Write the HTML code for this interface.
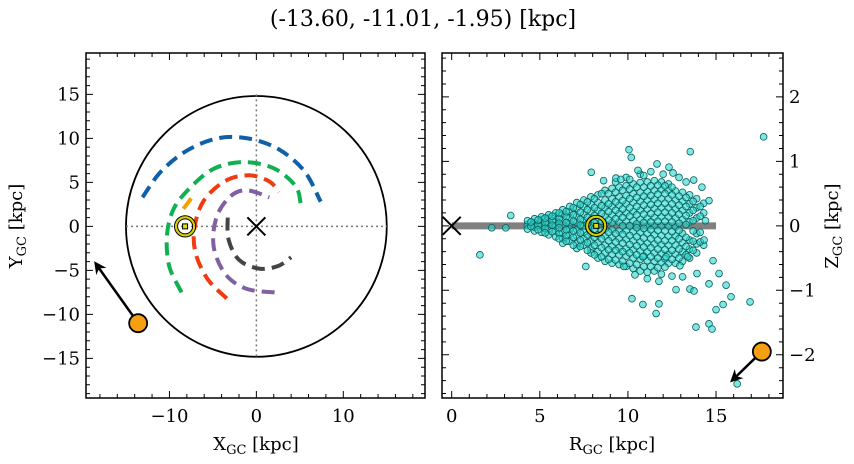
<!DOCTYPE html>
<html><head><meta charset="utf-8"><style>
html,body{margin:0;padding:0;background:#fff;}
svg{display:block;font-family:"DejaVu Serif","Liberation Serif",serif;}
</style></head><body>
<svg id="fig" width="854" height="464" viewBox="0 0 854 464" xmlns="http://www.w3.org/2000/svg">
<text x="423" y="26" font-size="22" text-anchor="middle">(-13.60, -11.01, -1.95) [kpc]</text>
</svg>
<script>
// ---- data ----
const sunXY = [-8.2, 0.0];
const objXY = [-13.6, -11.0];
const objArrowXY = [-18.5, -4.2];
const objRZ = [17.6, -1.95];
const objArrowRZ = [15.9, -2.4];
const sunRZ = [8.2, 0.0];
const diskRadius = 15;
const arcBlue = [[-13.1,3.3],[-11,6.2],[-8,8.6],[-4.5,10],[-1,10],[2.5,8.8],[5.5,6.3],[7.4,2.8]];
const arcGreen = [[-8.6,-7.5],[-10,-4.6],[-10.3,-1.2],[-9.6,1.8],[-8,4],[-5,6.5],[-1.5,7.3],[2,6.6],[4.5,4.6],[5.1,2.6]];
const arcRed = [[-3.4,-8.2],[-5.6,-6],[-7,-3],[-7.1,0],[-6,3],[-3.5,5.2],[-0.8,5.8],[1.5,5.1],[2.6,3.9]];
const arcPurple = [[2.1,-7.5],[-1.1,-7.1],[-3.5,-5.5],[-4.9,-2.4],[-4.6,1],[-3,3.4],[-1.1,4.1],[1.5,3.3]];
const arcGray = [[-3.3,1],[-3.2,-1.5],[-2,-3.8],[0.3,-4.8],[2.5,-4.5],[4,-3.5]];
const arcOrange = [[-8.4,2.0],[-7.4,3.3]];
const outlierR = [17.7,10.06,10.19,13.54,7.92,8.62,9.32,10.57,11.65,12.33,12.56,13.73,14.2,14.6,14.4,3.35,2.27,3.07,1.6,7.61,9.77,14.32,14.83,13.92,15.17,14.6,15.57,15.85,16.93,15.4,15,13.86,14.6,14.77,10.23,10.85,11.76,11.6,11.76,12.73,13.52,13.75,12.5,13.1,12.95,13.4,16.2,10.85,12.16,9.6,10.9,11.3,12.0,12.9,13.3,11.1,10.4];
const outlierZ = [1.38,1.18,1.06,1.15,0.83,0.70,0.74,0.86,0.96,0.91,0.82,0.71,0.6,0.39,0.08,0.16,-0.03,-0.03,-0.45,-0.63,-0.63,-0.22,-0.54,-0.74,-0.74,-0.9,-0.92,-1.1,-1.18,-1.22,-1.30,-1.57,-1.52,-1.6,-1.13,-1.22,-1.21,-1.36,-0.86,-0.99,-0.98,-1.01,-0.78,-0.79,-0.62,-0.48,-2.45,-0.48,-0.48,0.72,0.78,0.84,0.8,0.75,0.68,-0.82,-0.76];
const coreColumnsR = [4.3,4.7,5.1,5.5,5.9,6.3,6.7,7.1,7.5,7.9,8.3,8.7,9.1,9.5,9.9,10.3,10.7,11.1,11.5,11.9,12.3,12.7,13.1,13.5,13.9,14.3];
const coreColumnsZ = [
[0.02,-0.05,0.08],
[0.05,-0.08,0.11,-0.02],
[0.1,-0.1,0.0,0.14],
[0.12,-0.14,0.03,-0.05,0.17],
[0.15,-0.17,0.06,-0.08,0.0,0.2],
[0.18,-0.2,0.09,-0.11,0.01,0.25,-0.27],
[0.22,-0.24,0.12,-0.13,0.03,-0.05,0.3],
[0.27,-0.28,0.15,-0.16,0.05,-0.06,0.36,-0.35],
[0.3,-0.3,0.18,-0.2,0.08,-0.1,0.0,0.4],
[0.33,-0.36,0.22,-0.24,0.1,-0.12,0.0,0.45,-0.42],
[0.36,-0.4,0.24,-0.26,0.12,-0.14,0.48,-0.5],
[0.4,-0.42,0.28,-0.3,0.15,-0.16,0.03,-0.05,0.55,-0.55],
[0.42,-0.44,0.3,-0.32,0.17,-0.18,0.05,-0.06,0.58,-0.58],
[0.45,-0.45,0.32,-0.34,0.19,-0.2,0.06,-0.08,0.6,-0.6],
[0.47,-0.47,0.34,-0.35,0.2,-0.21,0.07,-0.08,0.62,-0.63,0.75],
[0.5,-0.5,0.36,-0.37,0.22,-0.23,0.08,-0.09,0.65,-0.66],
[0.52,-0.52,0.38,-0.39,0.24,-0.25,0.1,-0.1,0.67,-0.7,0.8],
[0.53,-0.54,0.4,-0.4,0.26,-0.27,0.12,-0.12,0.0,0.68,-0.72],
[0.55,-0.55,0.41,-0.42,0.27,-0.28,0.13,-0.14,0.0,0.7,-0.7],
[0.56,-0.57,0.42,-0.43,0.28,-0.29,0.14,-0.15,0.0,0.68,-0.75],
[0.55,-0.58,0.42,-0.44,0.28,-0.3,0.14,-0.16,0.0,0.65],
[0.54,-0.58,0.4,-0.44,0.26,-0.3,0.12,-0.16,-0.02],
[0.52,-0.55,0.38,-0.4,0.24,-0.26,0.1,-0.12],
[0.48,-0.5,0.34,-0.36,0.2,-0.22,0.06],
[0.42,-0.42,0.28,-0.28,0.12,-0.12],
[0.35,-0.3,0.2]];
const coreColumnsR2 = [4.5,4.9,5.3,5.7,6.1,6.5,6.9,7.3,7.7,8.1,8.5,8.9,9.3,9.7,10.1,10.5,10.9,11.3,11.7,12.1,12.5,12.9,13.3,13.7,14.1];
const coreColumnsZ2 = [
[-0.01,0.06],
[0.01,-0.06,0.09],
[0.05,-0.04,0.12,-0.11],
[0.08,-0.09,0.01,0.15],
[0.11,-0.12,0.04,-0.03,0.2,-0.2],
[0.14,-0.15,0.05,-0.06,0.22,-0.24],
[0.17,-0.18,0.07,-0.08,0.28,-0.3],
[0.21,-0.22,0.1,-0.11,0.01,0.33,-0.32],
[0.25,-0.26,0.13,-0.14,0.03,0.37,-0.38],
[0.28,-0.3,0.16,-0.18,0.05,-0.05,0.42,-0.45],
[0.31,-0.34,0.19,-0.2,0.07,-0.07,0.5,-0.48],
[0.34,-0.37,0.22,-0.23,0.09,-0.1,0.5,-0.52],
[0.37,-0.38,0.24,-0.25,0.11,-0.12,0.52,-0.53,0.68],
[0.39,-0.4,0.26,-0.27,0.13,-0.13,0.0,0.55,-0.55],
[0.42,-0.42,0.28,-0.29,0.15,-0.15,0.0,0.57,-0.58,0.72],
[0.44,-0.45,0.3,-0.31,0.17,-0.17,0.03,-0.03,0.6,-0.6],
[0.46,-0.47,0.32,-0.33,0.18,-0.19,0.05,-0.04,0.6,-0.63],
[0.47,-0.48,0.33,-0.34,0.19,-0.2,0.06,-0.06,0.62,-0.63],
[0.49,-0.5,0.35,-0.36,0.21,-0.22,0.07,-0.07,0.63,-0.65],
[0.5,-0.51,0.35,-0.37,0.21,-0.23,0.07,-0.08,0.62,-0.64],
[0.48,-0.52,0.34,-0.38,0.2,-0.23,0.06,-0.09,0.6],
[0.46,-0.5,0.32,-0.36,0.18,-0.2,0.04,-0.07],
[0.44,-0.45,0.3,-0.32,0.16,-0.18,0.02],
[0.38,-0.38,0.24,-0.24,0.08,-0.08],
[0.3,-0.25,0.15,-0.1]];
const leftXTicks = [-10,0,10];
const leftXTickLabels = ["\u221210","0","10"];
const leftYTicks = [-15,-10,-5,0,5,10,15];
const leftYTickLabels = ["\u221215","\u221210","\u22125","0","5","10","15"];
const rightXTicks = [0,5,10,15];
const rightXTickLabels = ["0","5","10","15"];
const rightYTicks = [-2,-1,0,1,2];
const rightYTickLabels = ["\u22122","\u22121","0","1","2"];

// ---- layout ----
const NS="http://www.w3.org/2000/svg";
const svg=document.getElementById('fig');
function mk(tag,attrs,parent){const e=document.createElementNS(NS,tag);for(const k in attrs)e.setAttribute(k,attrs[k]);(parent||svg).appendChild(e);return e;}
const L={x0:86,x1:425,y0:53,y1:398,xmin:-19.6,xmax:19.4,ymin:-19.5,ymax:19.7};
const R={x0:442,x1:783,y0:53,y1:398,xmin:-0.55,xmax:18.8,ymin:-2.67,ymax:2.68};
function sx(P,v){return P.x0+(v-P.xmin)/(P.xmax-P.xmin)*(P.x1-P.x0);}
function sy(P,v){return P.y1-(v-P.ymin)/(P.ymax-P.ymin)*(P.y1-P.y0);}
function smoothPath(P,pts){
  const q=pts.map(p=>[sx(P,p[0]),sy(P,p[1])]);
  let d=`M${q[0][0].toFixed(1)} ${q[0][1].toFixed(1)}`;
  for(let i=0;i<q.length-1;i++){
    const p0=q[Math.max(0,i-1)],p1=q[i],p2=q[i+1],p3=q[Math.min(q.length-1,i+2)];
    const c1=[p1[0]+(p2[0]-p0[0])/6,p1[1]+(p2[1]-p0[1])/6];
    const c2=[p2[0]-(p3[0]-p1[0])/6,p2[1]-(p3[1]-p1[1])/6];
    d+=`C${c1[0].toFixed(1)} ${c1[1].toFixed(1)} ${c2[0].toFixed(1)} ${c2[1].toFixed(1)} ${p2[0].toFixed(1)} ${p2[1].toFixed(1)}`;
  }
  return d;
}

const defs=mk('defs',{});
const cl=mk('clipPath',{id:'clipL'},defs);mk('rect',{x:L.x0,y:L.y0,width:L.x1-L.x0,height:L.y1-L.y0},cl);
const cr=mk('clipPath',{id:'clipR'},defs);mk('rect',{x:R.x0,y:R.y0,width:R.x1-R.x0,height:R.y1-R.y0},cr);
const mrk=mk('marker',{id:'arrowHead',viewBox:'0 0 10 10',refX:'8',refY:'5',markerWidth:'5',markerHeight:'5',orient:'auto'},defs);
mk('path',{d:'M0 0 L10 5 L0 10 L3 5 Z',fill:'#000'},mrk);

// ---- left panel ----
const gL=mk('g',{'clip-path':'url(#clipL)'});


const disk=mk('circle',{cx:sx(L,0),cy:sy(L,0),r:sx(L,diskRadius)-sx(L,0),fill:'none',stroke:'#000','stroke-width':1.8},gL);


const dv=mk('line',{x1:sx(L,0),x2:sx(L,0),y1:sy(L,diskRadius),y2:sy(L,-diskRadius),stroke:'#777','stroke-width':1.5,'stroke-dasharray':'2 3'},gL);


const dh=mk('line',{x1:sx(L,-diskRadius),x2:sx(L,diskRadius),y1:sy(L,0),y2:sy(L,0),stroke:'#777','stroke-width':1.5,'stroke-dasharray':'2 3'},gL);


const arcs=[[arcBlue,'#1060a8','orbit-arc-blue'],[arcGreen,'#10b050','orbit-arc-green'],[arcRed,'#f03a10','orbit-arc-red'],[arcPurple,'#8060a0','orbit-arc-purple'],[arcGray,'#444','orbit-arc-gray'],[arcOrange,'#f5a000','orbit-arc-orange']];
arcs.forEach(a=>{
  const p=mk('path',{d:smoothPath(L,a[0]),fill:'none',stroke:a[1],'stroke-width':4,'stroke-dasharray':'13 7'},gL);
  
  
});
function xMarker(P,x,y,g,name){
  const cx=sx(P,x),cy=sy(P,y),s=9;
  const e=mk('path',{d:`M${cx-s} ${cy-s}L${cx+s} ${cy+s}M${cx-s} ${cy+s}L${cx+s} ${cy-s}`,stroke:'#000','stroke-width':2,fill:'none'},g);
  
  
}
function sunMarker(P,x,y,g,name){
  const cx=sx(P,x),cy=sy(P,y);
  const grp=mk('g',{},g);
  
  
  mk('circle',{cx,cy,r:10.5,fill:'none',stroke:'#000','stroke-width':1.2},grp);
  mk('circle',{cx,cy,r:9,fill:'none',stroke:'#d8d000','stroke-width':2.2},grp);
  mk('circle',{cx,cy,r:7.5,fill:'none',stroke:'#000','stroke-width':1},grp);
  mk('rect',{x:cx-2.5,y:cy-2.5,width:5,height:5,fill:'#e0e000',stroke:'#000','stroke-width':1},grp);
}
xMarker(L,0,0,gL,'galactic-center-marker');
sunMarker(L,sunXY[0],sunXY[1],gL,'sun-marker-xy');
const arL=mk('line',{x1:sx(L,objXY[0]),y1:sy(L,objXY[1]),x2:sx(L,objArrowXY[0]),y2:sy(L,objArrowXY[1]),stroke:'#000','stroke-width':2.5,'marker-end':'url(#arrowHead)'},gL);


const oL=mk('circle',{cx:sx(L,objXY[0]),cy:sy(L,objXY[1]),r:9,fill:'#f5a010',stroke:'#000','stroke-width':1.8},gL);



// ---- right panel ----
const gR=mk('g',{'clip-path':'url(#clipR)'});


const bar=mk('line',{x1:sx(R,0),x2:sx(R,diskRadius),y1:sy(R,0),y2:sy(R,0),stroke:'#808080','stroke-width':7},gR);


function pt(r,z,name){
  const c=mk('circle',{cx:sx(R,r),cy:sy(R,z),r:3.4,fill:'rgba(40,215,205,0.6)',stroke:'#0b5f5c','stroke-width':0.8},gR);
  
  
}
coreColumnsR.forEach((r,i)=>coreColumnsZ[i].forEach(z=>pt(r,z,'star-point')));
coreColumnsR2.forEach((r,i)=>coreColumnsZ2[i].forEach(z=>pt(r,z,'star-point')));
outlierR.forEach((r,i)=>pt(r,outlierZ[i],'star-point-outlier'));
xMarker(R,0,0,gR,'galactic-center-marker-rz');
sunMarker(R,sunRZ[0],sunRZ[1],gR,'sun-marker-rz');
const arR=mk('line',{x1:sx(R,objRZ[0]),y1:sy(R,objRZ[1]),x2:sx(R,objArrowRZ[0]),y2:sy(R,objArrowRZ[1]),stroke:'#000','stroke-width':2.5,'marker-end':'url(#arrowHead)'},gR);


const oR=mk('circle',{cx:sx(R,objRZ[0]),cy:sy(R,objRZ[1]),r:9,fill:'#f5a010',stroke:'#000','stroke-width':1.8},gR);



// ---- axes ----
function axes(P,xMaj,xMin,yMaj,yMin,xT,xTL,yT,yTL,ySide,name){
  const g=mk('g',{});
  
  
  mk('rect',{x:P.x0,y:P.y0,width:P.x1-P.x0,height:P.y1-P.y0,fill:'none',stroke:'#000','stroke-width':1.5},g);
  let d='';
  for(let v=Math.ceil(P.xmin/xMin)*xMin;v<=P.xmax;v+=xMin){
    const vv=Math.round(v*1000)/1000; const x=sx(P,vv);
    const len=(Math.abs(vv/xMaj-Math.round(vv/xMaj))<1e-6)?7:4;
    d+=`M${x} ${P.y1}v${-len}M${x} ${P.y0}v${len}`;
  }
  for(let v=Math.ceil(P.ymin/yMin)*yMin;v<=P.ymax;v+=yMin){
    const vv=Math.round(v*1000)/1000; const y=sy(P,vv);
    const len=(Math.abs(vv/yMaj-Math.round(vv/yMaj))<1e-6)?7:4;
    d+=`M${P.x0} ${y}h${len}M${P.x1} ${y}h${-len}`;
  }
  mk('path',{d,stroke:'#000','stroke-width':1,fill:'none'},g);
  xT.forEach((v,i)=>{const t=mk('text',{x:sx(P,v),y:P.y1+24,'font-size':18,'text-anchor':'middle'},g);t.textContent=xTL[i];
    
    });
  yT.forEach((v,i)=>{const left=ySide==='left';
    const t=mk('text',{x:left?P.x0-6:P.x1+6,y:sy(P,v)+6,'font-size':18,'text-anchor':left?'end':'start'},g);t.textContent=yTL[i];
    
    });
}
axes(L,10,2,5,1,leftXTicks,leftXTickLabels,leftYTicks,leftYTickLabels,'left','xy-axes');
axes(R,5,1,1,0.2,rightXTicks,rightXTickLabels,rightYTicks,rightYTickLabels,'right','rz-axes');

function label(x,y,main,sub,rot,name){
  const t=mk('text',{x,y,'font-size':18,'text-anchor':'middle',transform:rot?`rotate(-90 ${x} ${y})`:''});
  
  
  const a=mk('tspan',{},t);a.textContent=main;
  const b=mk('tspan',{'font-size':13,dy:4},t);b.textContent=sub;
  const c=mk('tspan',{dy:-4},t);c.textContent=' [kpc]';
}
label(256,450,'X','GC',false,'x-axis-title-left');
label(22,226,'Y','GC',true,'y-axis-title-left');
label(612,450,'R','GC',false,'x-axis-title-right');
label(838,226,'Z','GC',true,'y-axis-title-right');
</script>
</body></html>
